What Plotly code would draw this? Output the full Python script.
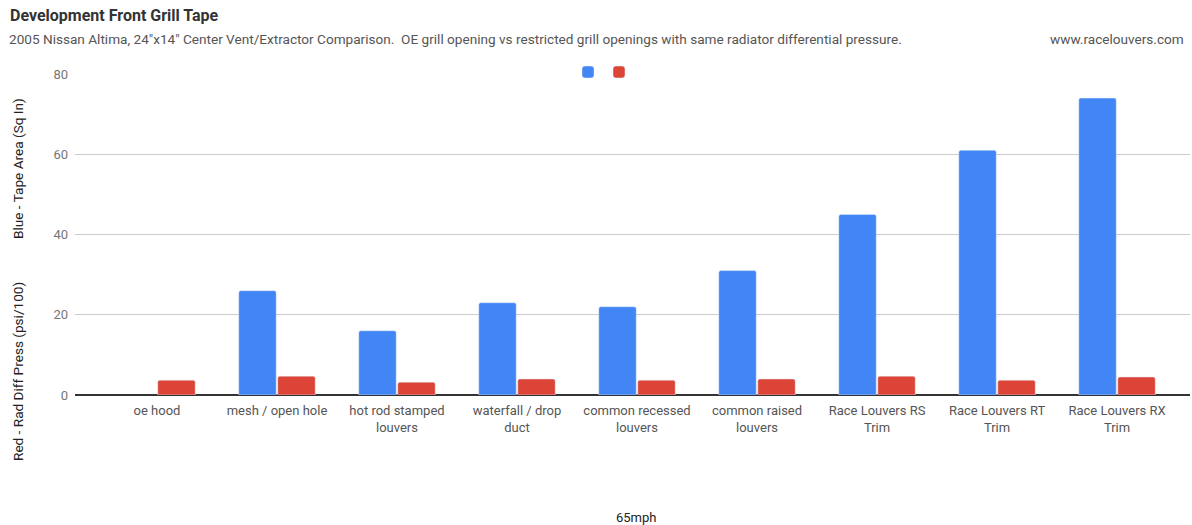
import plotly.graph_objects as go

categories = ["oe hood", "mesh / open hole", "hot rod stamped<br>louvers", "waterfall / drop<br>duct",
              "common recessed<br>louvers", "common raised<br>louvers", "Race Louvers RS<br>Trim",
              "Race Louvers RT<br>Trim", "Race Louvers RX<br>Trim"]
tape_area = [None, 26, 16, 23, 22, 31, 45, 61, 74]
diff_press = [3.7, 4.7, 3.2, 4.0, 3.7, 4.0, 4.7, 3.7, 4.5]
y_ticks = [0, 20, 40, 60, 80]

BLUE = "#4285F4"
RED = "#DB4437"
FONT = "Roboto"

fig = go.Figure()
fig.add_trace(go.Bar(x=categories, y=tape_area, name=" ", marker=dict(color=BLUE, cornerradius=2),
                     showlegend=True, legend="legend"))
fig.add_trace(go.Bar(x=categories, y=diff_press, name=" ", marker=dict(color=RED, cornerradius=2),
                     showlegend=True, legend="legend2"))

OFF = 0
W, H = 1192, 525
L, R, T, B = 75 - OFF, W - (1190 - OFF), 74 - OFF, H - (395 - OFF)
pw = W - L - R
ph = H - T - B


def px(xp):
    return (xp - OFF - L) / pw


def py(yp):
    return 1 - (yp - OFF - T) / ph


leg_common = dict(orientation="h", yanchor="middle", y=py(72), xanchor="left",
                  itemwidth=30, font=dict(size=1), bgcolor="rgba(0,0,0,0)")

fig.update_layout(
    width=W, height=H,
    margin=dict(l=L, r=R, t=T, b=B),
    paper_bgcolor="white", plot_bgcolor="white",
    font=dict(family=FONT, size=13, color="#555555"),
    barmode="group", bargap=0.35, bargroupgap=0.04,
    showlegend=True,
    legend=dict(x=px(588 - 20), **leg_common),
    legend2=dict(x=px(619 - 20), **leg_common),
    xaxis=dict(type="category", range=[-0.683, 8.608], showgrid=False, zeroline=False,
               showline=False, ticks="", tickfont=dict(size=13, color="#555555"),
               ticklabelstandoff=6),
    yaxis=dict(range=[0, 80], tickvals=y_ticks, showgrid=True, gridcolor="#CCCCCC", gridwidth=1,
               zeroline=True, zerolinecolor="#333333", zerolinewidth=1.5,
               ticks="", tickfont=dict(size=13, color="#757575"), ticklabelstandoff=6),
    annotations=[
        dict(text="<b>Development Front Grill Tape</b>", xref="paper", yref="paper",
             x=px(8), y=py(15), xanchor="left", yanchor="middle",
             showarrow=False, font=dict(size=16, color="#333333", family=FONT)),
        dict(text="2005 Nissan Altima, 24\"x14\" Center Vent/Extractor Comparison.  OE grill opening vs restricted grill openings with same radiator differential pressure.",
             xref="paper", yref="paper",
             x=px(7), y=py(39), xanchor="left", yanchor="middle",
             showarrow=False, font=dict(size=13.6, color="#555555", family=FONT)),
        dict(text="www.racelouvers.com", xref="paper", yref="paper",
             x=px(1186), y=py(39), xanchor="right", yanchor="middle",
             showarrow=False, font=dict(size=13.6, color="#555555", family=FONT)),
        dict(text="Blue - Tape Area (Sq In)", xref="paper", yref="paper", textangle=-90,
             x=px(18), y=py(169), xanchor="center", yanchor="middle",
             showarrow=False, font=dict(size=13.6, color="#222222", family=FONT)),
        dict(text="Red - Rad Diff Press (psi/100)", xref="paper", yref="paper", textangle=-90,
             x=px(18), y=py(372), xanchor="center", yanchor="middle",
             showarrow=False, font=dict(size=13.6, color="#222222", family=FONT)),
        dict(text="65mph", xref="paper", yref="paper",
             x=px(636), y=py(517), xanchor="center", yanchor="middle",
             showarrow=False, font=dict(size=13, color="#222222", family=FONT)),
    ],
)

fig.write_html("out.html", config={"displayModeBar": False},
               post_script="document.body.style.margin='0px';document.body.style.padding='0px';")
